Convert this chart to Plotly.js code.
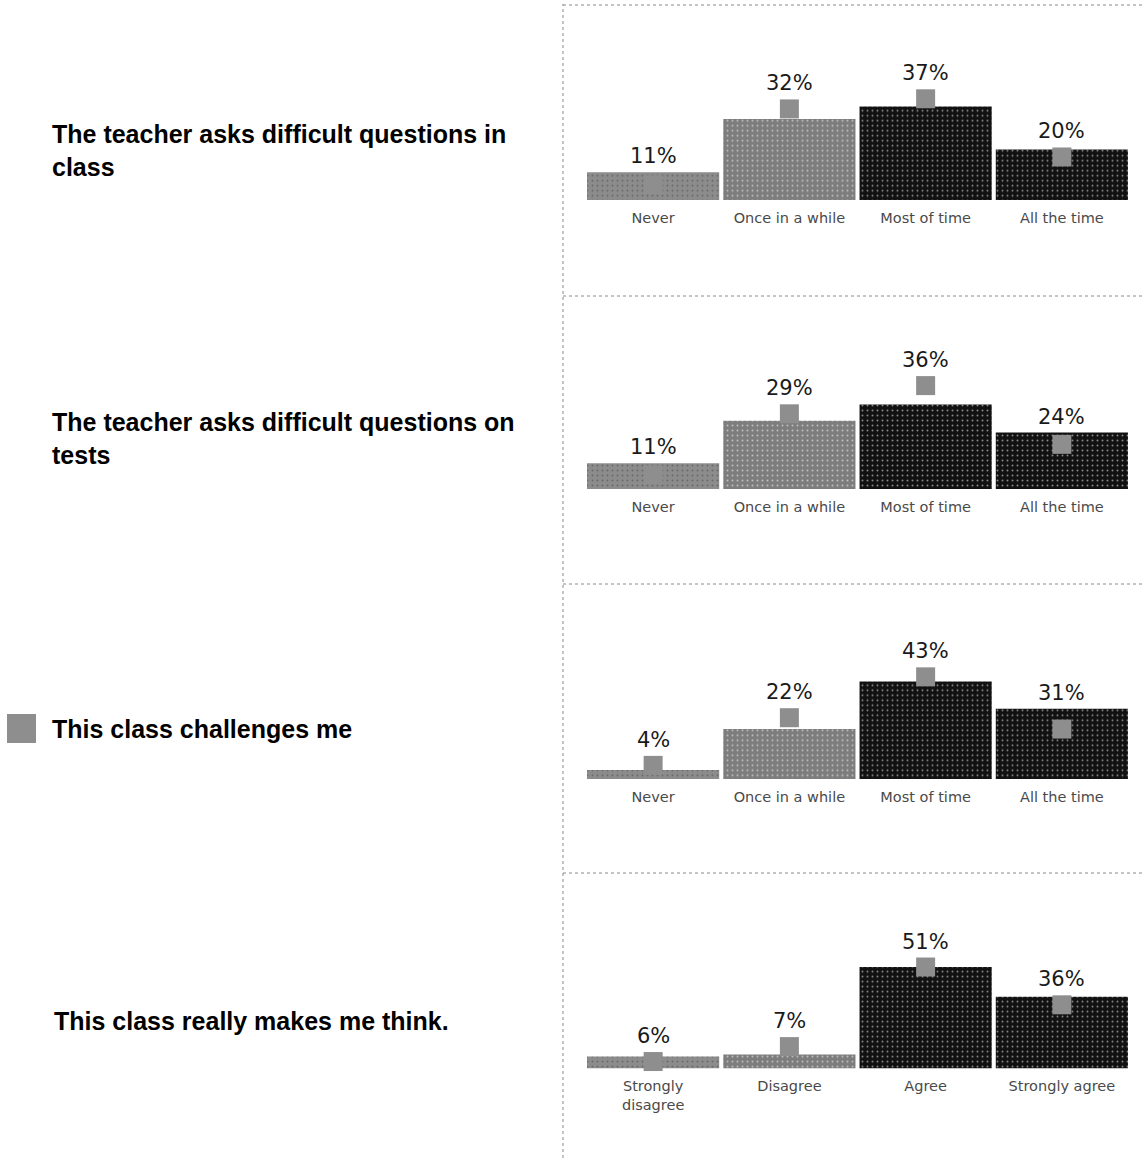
<!DOCTYPE html>
<html><head><meta charset="utf-8">
<script src="https://cdn.plot.ly/plotly-3.0.1.min.js"></script>
<style>html,body{margin:0;padding:0;background:#fff}#chart{width:1143px;height:1158px}</style>
</head><body><div id="chart"></div>
<script>
// ---- data ----
const questions = [
  "The teacher asks difficult questions in<br>class",
  "The teacher asks difficult questions on<br>tests",
  "This class challenges me",
  "This class really makes me think."
];
const frequencyCategories = ["Never", "Once in a while", "Most of time", "All the time"];
const agreementCategories = ["Strongly<br>disagree", "Disagree", "Agree", "Strongly agree"];

const q1Percent = [11, 32, 37, 20];
const q1Comparison = [6, 36, 40, 17];
const q2Percent = [11, 29, 36, 24];
const q2Comparison = [6, 32, 44, 19];
const q3Percent = [4, 22, 43, 31];
const q3Comparison = [6, 27, 45, 22];
const q4Percent = [6, 7, 51, 36];
const q4Comparison = [3.5, 11, 51, 32];

// ---- layout helpers ----
const W = 1143, H = 1158, RANGE = 60;
const panels = [
  {cats: frequencyCategories, vals: q1Percent, cmp: q1Comparison, base: 200,  ppu: 2.53, text: questions[0], ly: 150, lx: 50},
  {cats: frequencyCategories, vals: q2Percent, cmp: q2Comparison, base: 489,  ppu: 2.35, text: questions[1], ly: 439, lx: 50},
  {cats: frequencyCategories, vals: q3Percent, cmp: q3Comparison, base: 779,  ppu: 2.27, text: questions[2], ly: 729, lx: 50},
  {cats: agreementCategories, vals: q4Percent, cmp: q4Comparison, base: 1068.5, ppu: 1.99, text: questions[3], ly: 1021, lx: 52}
];
const barColors = ['#8c8c8c', '#7d7d7d', '#111111', '#111111'];
const patColors = ['#b4b4b4', '#a8a8a8', '#5c5c5c', '#5c5c5c'];
const SQ = 19, GAP = 2;

const data = [];
const layout = {
  width: W, height: H,
  margin: {l: 0, r: 0, t: 0, b: 0},
  paper_bgcolor: '#ffffff', plot_bgcolor: 'rgba(0,0,0,0)',
  showlegend: false,
  bargap: 0.03,
  annotations: [],
  shapes: []
};

panels.forEach((p, i) => {
  const n = i === 0 ? '' : String(i + 1);
  const xa = 'x' + n, ya = 'y' + n;
  data.push({
    type: 'bar', x: p.cats, y: p.vals, xaxis: xa, yaxis: ya,
    marker: {color: barColors, line: {width: 0},
             pattern: {shape: '.', size: 5, solidity: 0.12, fgcolor: patColors, fillmode: 'overlay'}},
    hoverinfo: 'skip'
  });
  data.push({
    type: 'scatter', mode: 'markers', x: p.cats, y: p.cmp, xaxis: xa, yaxis: ya,
    marker: {symbol: 'square', size: SQ, color: '#8e8e8e', line: {width: 0}},
    cliponaxis: false, hoverinfo: 'skip'
  });
  const top = p.base - RANGE * p.ppu;
  layout['xaxis' + n] = {
    domain: [585 / W, 1130 / W], anchor: ya, type: 'category', range: [-0.5, 3.5],
    showgrid: false, zeroline: false, showline: false, ticks: '',
    tickfont: {family: 'DejaVu Sans', size: 14.5, color: '#4a4a4a'}, ticklabelstandoff: 7,
    fixedrange: true
  };
  layout['yaxis' + n] = {
    domain: [1 - p.base / H, 1 - top / H], anchor: xa, range: [0, RANGE],
    visible: false, fixedrange: true
  };
  p.vals.forEach((v, k) => {
    const extra = Math.max(0, (p.cmp[k] - v) * p.ppu + SQ / 2);
    layout.annotations.push({
      xref: xa, yref: ya, x: p.cats[k], y: v, yanchor: 'bottom', showarrow: false,
      yshift: extra + GAP, text: v + '%',
      font: {family: 'DejaVu Sans', size: 21, color: '#1a1a1a'}
    });
  });
  layout.annotations.push({
    xref: 'paper', yref: 'paper', x: p.lx / W, y: 1 - p.ly / H, xanchor: 'left', yanchor: 'middle',
    align: 'left', showarrow: false, text: '<b>' + p.text + '</b>',
    font: {family: 'Liberation Sans, Arial', size: 25, color: '#000'}
  });
});

// dotted frame lines around the chart panels
const dot = {color: '#8a8a8a', width: 1, dash: 'dot'};
layout.shapes.push({type: 'line', xref: 'paper', yref: 'paper', x0: 563 / W, x1: 563 / W, y0: 0, y1: 1 - 4 / H, line: dot});
[5, 296, 584, 873].forEach(py => {
  layout.shapes.push({type: 'line', xref: 'paper', yref: 'paper', x0: 563 / W, x1: 1, y0: 1 - py / H, y1: 1 - py / H, line: dot});
});
// small grey key square beside the third statement
layout.shapes.push({type: 'rect', xref: 'paper', yref: 'paper', x0: 7 / W, x1: 36 / W, y0: 1 - 743 / H, y1: 1 - 714 / H,
  fillcolor: '#8e8e8e', line: {width: 0}});

Plotly.newPlot('chart', data, layout, {staticPlot: true, displayModeBar: false});
</script>
</body></html>
